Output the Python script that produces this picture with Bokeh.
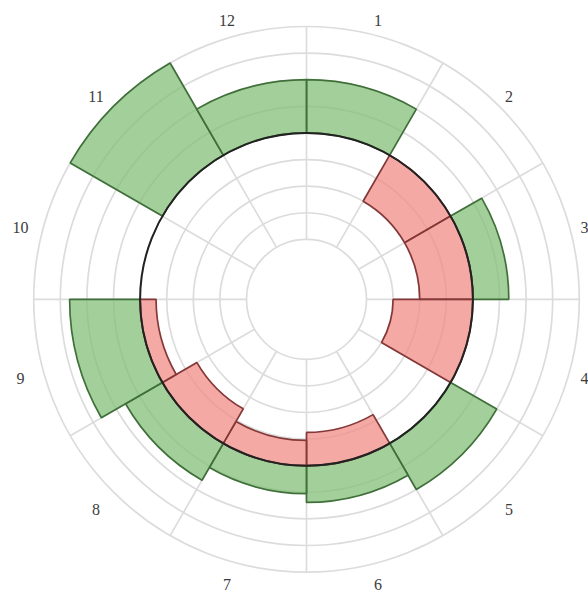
import numpy as np
from bokeh.plotting import figure
from bokeh.models import Range1d, ColumnDataSource
from bokeh.core.properties import value
from bokeh.embed import file_html
from bokeh.resources import INLINE

# ---- data -------------------------------------------------------------
sectors = ["1", "2", "3", "4", "5", "6", "7", "8", "9", "10", "11", "12"]
gain = [2.0, 0.0, 1.35, 0.0, 2.0, 1.38, 1.05, 1.6, 2.65, 0.0, 4.0, 2.0]      # green, outward
loss = [0.0, -2.0, -2.0, -3.0, 0.0, -1.25, -0.95, -1.5, -0.6, 0.0, 0.0, 0.0]  # red, inward
ring_levels = [0, 1, 2, 3, 4, 5, 6, 7, 8]
baseline_level = 4

# ---- geometry (1 data unit = 1 px) -------------------------------------
W, H = 588, 596
CX, CY = 306.0, 298.8
R0, STEP = 60.0, 26.6


def rad(v):
    return R0 + STEP * np.asarray(v, dtype=float)


n = len(sectors)
width_deg = 360.0 / n

p = figure(width=W, height=H,
           x_range=Range1d(-CX, W - CX), y_range=Range1d(-(H - CY), CY),
           x_axis_type=None, y_axis_type=None,
           toolbar_location=None, output_backend="svg",
           min_border=0, outline_line_color=None,
           background_fill_color="white", border_fill_color="white")

# grid circles
p.circle(x=[0] * len(ring_levels), y=[0] * len(ring_levels),
         radius=list(rad(ring_levels)), fill_color=None,
         line_color="#dcdcdc", line_width=1.7)

# radial spokes
ang = np.deg2rad(90 - np.arange(n) * width_deg)
rin, rout = rad(ring_levels[0]), rad(ring_levels[-1])
p.segment(x0=rin * np.cos(ang), y0=rin * np.sin(ang),
          x1=rout * np.cos(ang), y1=rout * np.sin(ang),
          line_color="#dcdcdc", line_width=1.7)

# bars
idx = np.arange(n)
start = np.deg2rad(90 - (idx + 1) * width_deg)
end = np.deg2rad(90 - idx * width_deg)

g = np.array(gain)
gm = g > 0
gsrc = ColumnDataSource(dict(
    x=np.zeros(gm.sum()), y=np.zeros(gm.sum()),
    ir=np.full(gm.sum(), float(rad(baseline_level))),
    orr=rad(baseline_level + g[gm]),
    sa=start[gm], ea=end[gm]))
p.annular_wedge(x="x", y="y", inner_radius="ir", outer_radius="orr",
                start_angle="sa", end_angle="ea", direction="anticlock",
                source=gsrc, fill_color="#84c078", fill_alpha=0.75,
                line_color="#40703a", line_width=1.7)

l = np.array(loss)
lm = l < 0
lsrc = ColumnDataSource(dict(
    x=np.zeros(lm.sum()), y=np.zeros(lm.sum()),
    ir=rad(baseline_level + l[lm]),
    orr=np.full(lm.sum(), float(rad(baseline_level))),
    sa=start[lm], ea=end[lm]))
p.annular_wedge(x="x", y="y", inner_radius="ir", outer_radius="orr",
                start_angle="sa", end_angle="ea", direction="anticlock",
                source=lsrc, fill_color="#f08c87", fill_alpha=0.75,
                line_color="#843838", line_width=1.7)

# baseline circle
p.circle(x=[0], y=[0], radius=[float(rad(baseline_level))], fill_color=None,
         line_color="#222222", line_width=2.0)

# sector labels
LR = 292.0
mid = np.deg2rad((idx + 0.5) * width_deg)
p.text(x=-4 + LR * np.sin(mid), y=-3.5 + LR * np.cos(mid), text=sectors,
       text_align="center", text_baseline="middle",
       text_font=value("Liberation Serif"), text_font_size="16px",
       text_color="#3c3c3c")

open("out.html", "w").write(file_html(p, INLINE))
